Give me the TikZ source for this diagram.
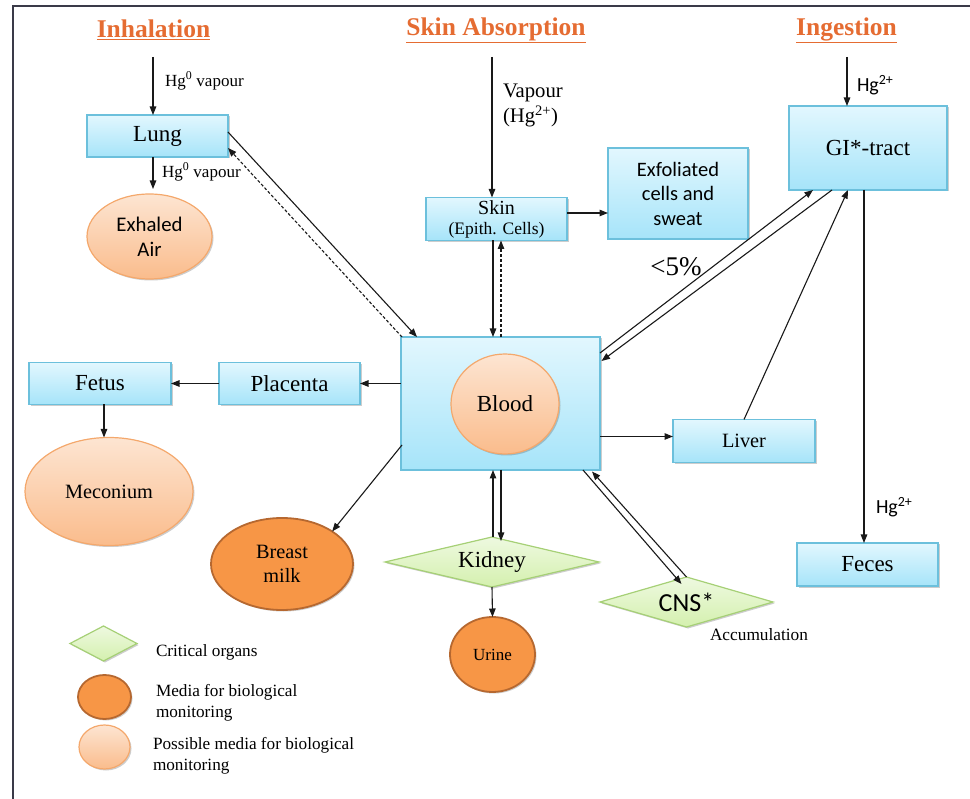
\documentclass[tikz,border=0pt]{standalone}
\usepackage{fontspec}
\setmainfont{Liberation Serif}
\newfontfamily\calfont{Carlito}
\usetikzlibrary{arrows.meta,shapes.geometric,calc,shadows}

\definecolor{framecol}{RGB}{58,58,72}
\definecolor{titlecol}{RGB}{229,108,50}
\definecolor{boxline}{RGB}{108,192,220}
\definecolor{boxtop}{RGB}{226,247,254}
\definecolor{boxbot}{RGB}{166,228,249}
\definecolor{paletop}{RGB}{253,229,210}
\definecolor{palebot}{RGB}{250,188,140}
\definecolor{paleline}{RGB}{244,168,108}
\definecolor{darkfill}{RGB}{247,150,70}
\definecolor{darkline}{RGB}{182,104,48}
\definecolor{greentop}{RGB}{238,249,224}
\definecolor{greenbot}{RGB}{212,240,174}
\definecolor{greenline}{RGB}{166,208,118}

% serif and sans text at a given size (in pt)
\newcommand\serifat[2]{\rmfamily\fontsize{#1}{#2}\selectfont}
\newcommand\sansat[2]{\calfont\fontsize{#1}{#2}\selectfont}

\tikzset{
  every node/.style={inner sep=0pt, outer sep=0pt},
  softshadow/.style={drop shadow={shadow xshift=1.5pt, shadow yshift=-1.5pt, opacity=0.28, fill=black!70}},
  organbox/.style={rectangle, draw=boxline, line width=1.2pt, top color=boxtop,
    bottom color=boxbot, softshadow, align=center, font=\serifat{23}{27}},
  palemedia/.style={ellipse, draw=paleline, line width=1.2pt, top color=paletop,
    bottom color=palebot, softshadow, align=center, font=\serifat{20.3}{24}},
  darkmedia/.style={ellipse, draw=darkline, line width=1.8pt, fill=darkfill,
    softshadow, align=center, font=\serifat{20.3}{24}},
  organ/.style={diamond, draw=greenline, line width=1.2pt, top color=greentop,
    bottom color=greenbot, softshadow, aspect=4, align=center, font=\serifat{23}{27}},
  routetitle/.style={text=titlecol, font=\serifat{25.5}{29}\bfseries},
  arr/.style={-{Triangle[length=8.5pt,width=6.5pt]}, line width=1.1pt, black!90},
  dsh/.style={arr, dash pattern=on 3pt off 2pt},
  lbl/.style={anchor=west, align=left, font=\serifat{17}{20}}
}

\begin{document}
\begin{tikzpicture}[x=1pt, y=-1pt]
\useasboundingbox (0,0) rectangle (970,799);

% page frame
\draw[framecol, line width=2.2pt] (13,799) -- (13,6) -- (970,6);

% exposure routes
\node[routetitle] (inhal) at (153.5,30) {\underline{Inhalation}};
\node[routetitle] (skinabs) at (496,30) {\underline{Skin Absorption}};
\node[routetitle] (ingest) at (846.5,30) {\underline{Ingestion}};

% organs and compartments
\node[organbox, minimum width=141pt, minimum height=42pt] (lung) at (157.5,136) {Lung};
\node[palemedia, minimum width=125pt, minimum height=85pt, font=\sansat{20.8}{25}] (exhaled) at (149.5,236.5) {Exhaled\\Air};
\node[organbox, minimum width=141pt, minimum height=43pt, font=\serifat{17.5}{20}] (skin) at (496.5,219)
  {{\serifat{20}{20}Skin}\\(Epith. Cells)};
\node[organbox, minimum width=140pt, minimum height=91pt, font=\sansat{20.5}{24.5}] (exfol) at (678,193.5) {Exfoliated\\cells and\\sweat};
\node[organbox, minimum width=158pt, minimum height=84pt] (gi) at (868,148) {GI*-tract};

\node[organbox, minimum width=199pt, minimum height=133pt] (blood) at (500.5,403.5) {};
\node[palemedia, minimum width=108pt, minimum height=100pt, font=\serifat{23}{27}] (bloodc) at (505,404) {Blood};

\node[organbox, minimum width=141pt, minimum height=42pt] (placenta) at (289.5,383.5) {Placenta};
\node[organbox, minimum width=142pt, minimum height=42pt] (fetus) at (100,383.5) {Fetus};
\node[palemedia, minimum width=168pt, minimum height=108pt] (meconium) at (109,491.5) {Meconium};
\node[organbox, minimum width=142pt, minimum height=43pt, font=\serifat{20.3}{24}] (liver) at (744,441) {Liver};
\node[organbox, minimum width=141pt, minimum height=43pt] (feces) at (867.5,564.5) {Feces};
\node[darkmedia, minimum width=142pt, minimum height=92pt] (breast) at (282,564) {Breast\\milk};
\node[organ, minimum width=214pt, minimum height=50pt] (kidney) at (492,562) {Kidney};
\node[darkmedia, minimum width=85pt, minimum height=75pt, font=\serifat{17}{20}] (urine) at (492.5,654.5) {Urine};
\node[organ, minimum width=173pt, minimum height=50pt, font=\sansat{26}{30}] (cns) at (686.5,602) {CNS*};

% inhalation pathway
\coordinate (inhsrc) at (153,57);
\draw[arr] (inhsrc) -- (inhsrc |- lung.north);
\node[lbl] (hgvap1) at (165,81) {Hg\textsuperscript{0} vapour};
\draw[arr, shorten >=5pt] (inhsrc |- lung.south) -- (inhsrc |- exhaled.north);
\node[lbl] (hgvap2) at (162,172) {Hg\textsuperscript{0} vapour};
\draw[arr] ($(lung.east)+(0,-4)$) -- ($(blood.north west)+(16,0)$);
\draw[dsh] ($(blood.north west)+(1,0)$) -- ($(lung.east)+(0,12)$);

% skin pathway
\coordinate (skinsrc) at (492,57);
\draw[arr] (skinsrc) -- (skinsrc |- skin.north);
\node[lbl, font=\serifat{20.7}{25}] (vaplbl) at (503,105.5) {Vapour\\(Hg\textsuperscript{2+})};
\coordinate (skinfoot) at ($(skin.south)+(-3.5,0)$);
\draw[arr] (skinfoot) -- (skinfoot |- blood.north);
\coordinate (bloodtop) at ($(blood.north)+(0.5,0)$);
\draw[dsh] (bloodtop) -- (bloodtop |- skin.south);
\coordinate (skinside) at ($(skin.east)+(0,-6)$);
\draw[arr] (skinside) -- (skinside -| exfol.west);
\node[font=\serifat{27}{30}] (lt5) at (676,267) {<5\%};

% ingestion pathway
\coordinate (ingsrc) at (847,57);
\draw[arr] (ingsrc) -- (ingsrc |- gi.north);
\node[lbl, font=\sansat{20}{24}] (hgin) at (857,85) {Hg\textsuperscript{2+}};
\draw[arr] ($(blood.north east)+(0,16)$) -- ($(gi.south west)+(24,0)$);
\draw[arr] ($(gi.south west)+(43,0)$) -- ($(blood.north east)+(1.5,24)$);
\draw[arr] (liver.north) -- ($(gi.south)+(-20,0)$);
\coordinate (gifoot) at ($(gi.south)+(-4,0)$);
\draw[arr] (gifoot) -- (gifoot |- feces.north);
\node[lbl, font=\sansat{20}{24}] (hgout) at (876,507) {Hg\textsuperscript{2+}};

% distribution from blood
\coordinate (bloodliv) at ($(blood.east)+(0,33)$);
\draw[arr] (bloodliv) -- (bloodliv -| liver.west);
\draw[arr] (blood.west |- placenta.east) -- (placenta.east);
\draw[arr] (placenta.west) -- (fetus.east);
\coordinate (fetfoot) at ($(fetus.south)+(4,0)$);
\draw[arr] (fetfoot) -- (fetfoot |- meconium.north);
\draw[arr] ($(blood.south west)+(1,-25)$) -- (breast.33);
\coordinate (kup) at ($(blood.south)+(-7.5,0)$);
\draw[arr] (kup |- kidney.north) -- (kup);
\coordinate (kdn) at ($(blood.south)+(0.5,0)$);
\draw[arr] (kdn) -- ($(kdn |- kidney.north)+(0,4)$);
\draw[arr] (kidney.south) -- (urine.north);
\draw[arr] ($(blood.south east)+(-17,0)$) -- ($(cns.north)+(-5,7)$);
\draw[arr] (cns.north) -- ($(blood.south east)+(-8,1.5)$);
\node[lbl, font=\serifat{17.3}{20}] (accum) at (710,635) {Accumulation};

% key
\node[organ, minimum width=67pt, minimum height=35pt] (keyorgan) at (103.5,643.5) {};
\node[lbl, font=\serifat{17.2}{21}] (keyorgantxt) at (156,652) {Critical organs};
\node[darkmedia, minimum width=53pt, minimum height=44pt] (keydark) at (104.5,697) {};
\node[lbl, font=\serifat{17.2}{21}] (keydarktxt) at (156,702.5) {Media for biological\\monitoring};
\node[palemedia, minimum width=51pt, minimum height=44pt] (keypale) at (104.5,747) {};
\node[lbl, font=\serifat{17.2}{21}] (keypaletxt) at (153,755.5) {Possible media for biological\\monitoring};
\end{tikzpicture}
\end{document}
